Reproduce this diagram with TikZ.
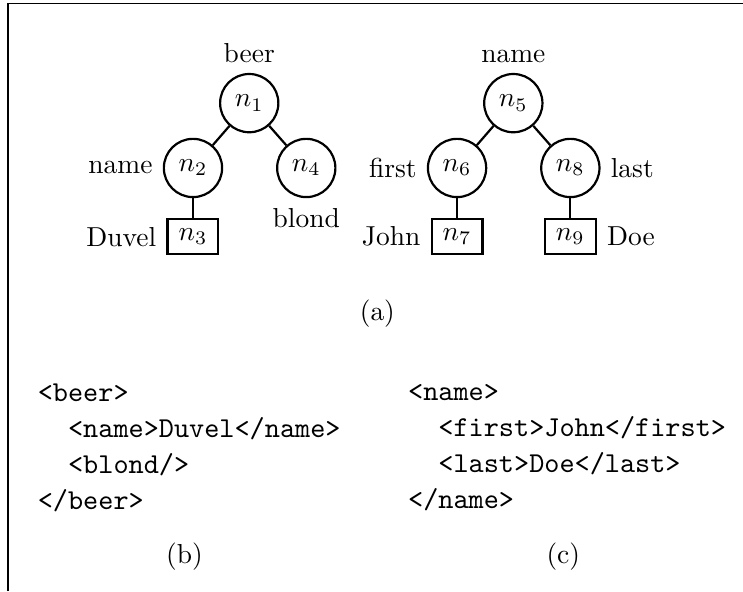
\documentclass[tikz,border=0pt]{standalone}
\begin{document}
\begin{tikzpicture}[thick,
  inode/.style={circle, draw},
  leaf/.style={rectangle, draw, minimum width=18.5pt, minimum height=12.7pt},
  code/.style={anchor=north west, align=left, inner sep=0pt,
    font=\ttfamily\fontsize{10.5}{13.1}\selectfont}]
  \useasboundingbox (0,0) rectangle (9.51,-7.565);
  \draw[semithick] (0.10,-7.565) -- (0.10,-0.045) -- (9.51,-0.045);
  % first tree
  \node[inode, label=above:beer] (n1) at (3.19,-1.32) {$n_1$};
  \node[inode, label=left:name] (n2) at (2.47,-2.15) {$n_2$};
  \node[leaf, label=left:Duvel] (n3) at (2.47,-3.03) {$n_3$};
  \node[inode, label=below:blond] (n4) at (3.92,-2.15) {$n_4$};
  % second tree
  \node[inode, label=above:name] (n5) at (6.57,-1.32) {$n_5$};
  \node[inode, label=left:first] (n6) at (5.85,-2.15) {$n_6$};
  \node[leaf, label=left:John] (n7) at (5.85,-3.03) {$n_7$};
  \node[inode, label=right:last] (n8) at (7.30,-2.15) {$n_8$};
  \node[leaf, label=right:Doe] (n9) at (7.30,-3.03) {$n_9$};
  \foreach \a/\b in {n1/n2,n1/n4,n2/n3,n5/n6,n5/n8,n6/n7,n8/n9}
    \draw (\a) -- (\b);
  \node (capa) at (4.83,-4.02) {(a)};
  % xml documents
  \node[code] (xmlb) at (0.47,-4.905)
    {<beer>\\\ \ <name>Duvel</name>\\\ \ <blond/>\\</beer>};
  \node[code] (xmlc) at (5.21,-4.905)
    {<name>\\\ \ <first>John</first>\\\ \ <last>Doe</last>\\</name>};
  \node (capb) at (2.36,-7.13) {(b)};
  \node (capc) at (7.21,-7.13) {(c)};
\end{tikzpicture}
\end{document}
